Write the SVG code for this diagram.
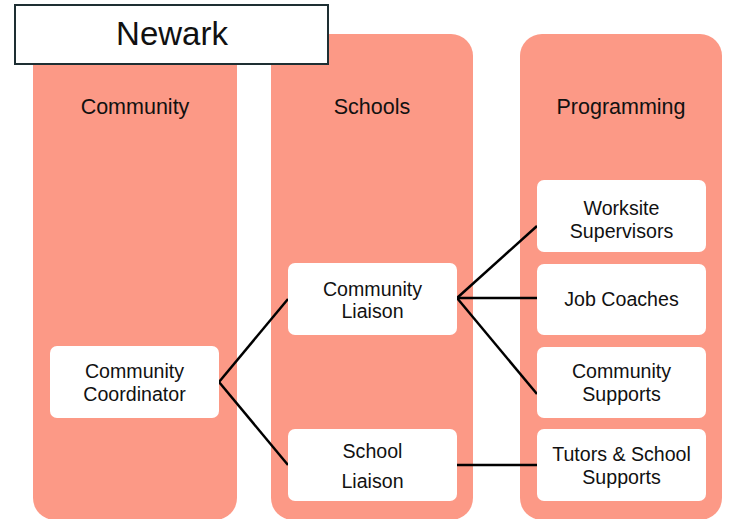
<svg xmlns="http://www.w3.org/2000/svg" width="731" height="519" viewBox="0 0 731 519">
<style>
.col{fill:#FC9986;}
.box{fill:#FFFFFF;}
text{font-family:"Liberation Sans",Arial,sans-serif;fill:#111;text-anchor:middle;}
.hdr{font-size:21.5px;}
.lbl{font-size:19.6px;}
.conn line{stroke:#000;stroke-width:2.5;}
</style>
<rect width="731" height="519" fill="#fff"/>
<g id="col-community"><rect class="col" x="33" y="34" width="204" height="486" rx="22"/><text class="hdr" x="135" y="114">Community</text></g>
<g id="col-schools"><rect class="col" x="271" y="34" width="202" height="486" rx="22"/><text class="hdr" x="372" y="114">Schools</text></g>
<g id="col-programming"><rect class="col" x="520" y="34" width="202" height="486" rx="22"/><text class="hdr" x="621" y="114">Programming</text></g>
<g class="conn" id="connectors">
<line x1="219" y1="382" x2="288" y2="299"/>
<line x1="219" y1="382" x2="288" y2="465"/>
<line x1="457" y1="298" x2="537" y2="226"/>
<line x1="457" y1="298" x2="537" y2="298"/>
<line x1="457" y1="298" x2="537" y2="394"/>
<line x1="457" y1="465" x2="537" y2="465"/>
</g>
<g id="community-coordinator"><rect class="box" x="50" y="346" width="169" height="72" rx="7"/><text class="lbl" x="134.5" y="378">Community</text><text class="lbl" x="134.5" y="401">Coordinator</text></g>
<g id="community-liaison"><rect class="box" x="288" y="263" width="169" height="72" rx="7"/><text class="lbl" x="372.5" y="296">Community</text><text class="lbl" x="372.5" y="318">Liaison</text></g>
<g id="school-liaison"><rect class="box" x="288" y="429" width="169" height="72" rx="7"/><text class="lbl" x="372.5" y="458">School</text><text class="lbl" x="372.5" y="488">Liaison</text></g>
<g id="worksite-supervisors"><rect class="box" x="537" y="180" width="169" height="72" rx="7"/><text class="lbl" x="621.5" y="215">Worksite</text><text class="lbl" x="621.5" y="238">Supervisors</text></g>
<g id="job-coaches"><rect class="box" x="537" y="264" width="169" height="71" rx="7"/><text class="lbl" x="621.5" y="306">Job Coaches</text></g>
<g id="community-supports"><rect class="box" x="537" y="347" width="169" height="71" rx="7"/><text class="lbl" x="621.5" y="378">Community</text><text class="lbl" x="621.5" y="401">Supports</text></g>
<g id="tutors-school-supports"><rect class="box" x="537" y="429" width="169" height="72" rx="7"/><text class="lbl" x="621.5" y="461">Tutors &amp; School</text><text class="lbl" x="621.5" y="484">Supports</text></g>
<g id="newark"><rect x="15" y="5" width="313" height="59" fill="#fff" stroke="#1E2F33" stroke-width="2"/><text x="172" y="45" style="font-size:33px">Newark</text></g>
</svg>
